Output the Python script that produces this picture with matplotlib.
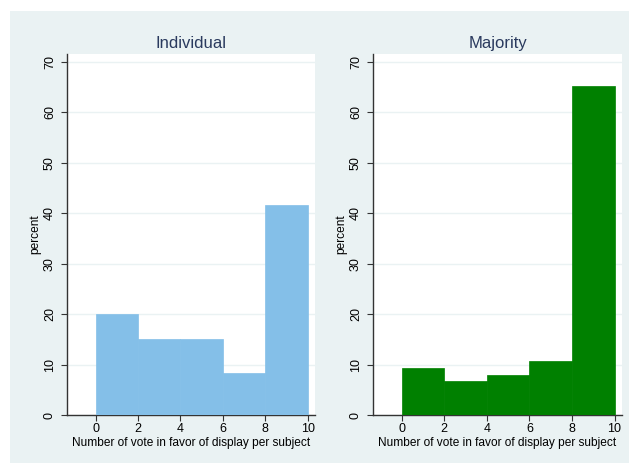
import matplotlib
matplotlib.use("Agg")
import matplotlib.pyplot as plt
from matplotlib.patches import Rectangle
import numpy as np

plt.rcParams['font.family'] = ['Liberation Sans', 'DejaVu Sans']

bin_left = [0, 2, 4, 6, 8]
individual_pct = [20.0, 15.0, 15.0, 8.33, 41.67]
majority_pct = [9.33, 6.67, 8.0, 10.67, 65.33]
panel_titles = ["Individual", "Majority"]
x_ticks = [0, 2, 4, 6, 8, 10]
y_ticks = [0, 10, 20, 30, 40, 50, 60, 70]

bg = "#eaf2f3"
W, H = 629, 465
fig = plt.figure(figsize=(W / 100, H / 100), dpi=100)
fig.patch.set_facecolor("white")
fig.patches.append(Rectangle((10 / W, 2 / H), 1 - 10 / W, (463 - 11) / H,
                             transform=fig.transFigure, facecolor=bg,
                             edgecolor="none", zorder=-1))

panels = [
    (67, 315, individual_pct, "#84bfe8"),
    (373, 622, majority_pct, "#008000"),
]

for (x0, x1, vals, col), title in zip(panels, panel_titles):
    ax = fig.add_axes([x0 / W, 1 - 415 / H, (x1 - x0) / W, (415 - 54) / H])
    ax.set_zorder(1)
    ax.set_facecolor("white")
    ax.bar(bin_left, vals, width=2, align="edge", color=col,
           edgecolor=col, linewidth=0.5, zorder=3)
    ax.set_xlim(-1.35, 10.35)
    ax.set_ylim(0, 71.6)
    ax.set_xticks(x_ticks)
    ax.set_yticks(y_ticks)
    ax.yaxis.grid(True, color=bg, linewidth=1.0, zorder=0)
    ax.set_axisbelow(True)
    for s in ["top", "right"]:
        ax.spines[s].set_visible(False)
    for s in ["left", "bottom"]:
        ax.spines[s].set_color("#333333")
        ax.spines[s].set_linewidth(1.0)
    ax.tick_params(axis="both", direction="out", length=4, width=0.8,
                   colors="#333333", labelsize=9, labelcolor="black")
    ax.tick_params(axis="x", pad=2)
    ax.tick_params(axis="y", pad=4)
    for lab in ax.get_yticklabels():
        lab.set_rotation(90)
        lab.set_va("center")
    ax.set_xlabel("Number of vote in favor of display per subject",
                  fontsize=8.6, labelpad=1)
    ax.set_ylabel("percent", fontsize=8.6, labelpad=2)
    ax.set_title(title, fontsize=12, color="#2a3a5e", pad=4)

fig.savefig("out.png", dpi=100, facecolor=fig.get_facecolor())
